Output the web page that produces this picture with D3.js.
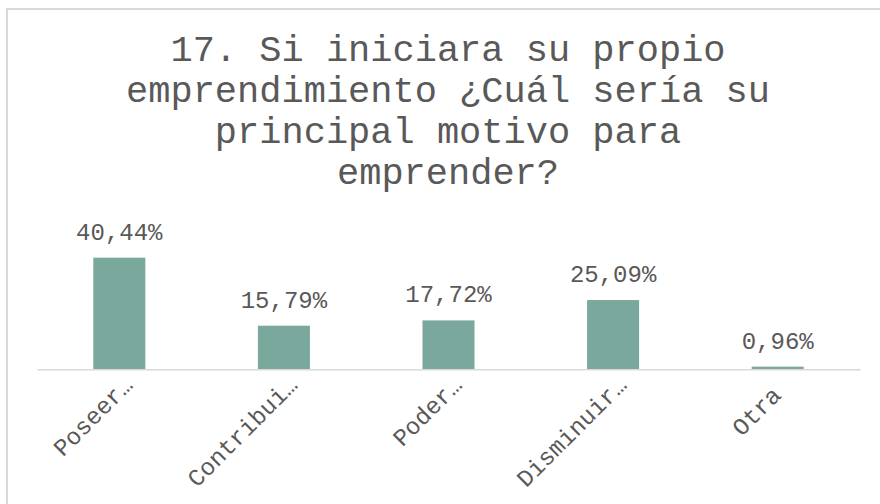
<!DOCTYPE html>
<html>
<head>
<meta charset="utf-8">
<script src="https://cdn.jsdelivr.net/npm/d3@7"></script>
<style>
  html, body { margin: 0; padding: 0; background: #fff; }
  svg { display: block; }
  .tick text { white-space: pre; }
</style>
</head>
<body>
<div id="chart"></div>
<script>
const titleLines = [
  '17. Si iniciara su propio',
  'emprendimiento ¿Cuál sería su',
  'principal motivo para',
  'emprender?'
];
const categories = ['Poseer…', 'Contribui…', 'Poder…', 'Disminuir…', 'Otra '];
const values = [40.44, 15.79, 17.72, 25.09, 0.96];

const width = 880;
const height = 504;
const fontFamily = '"Liberation Mono", "DejaVu Sans Mono", monospace';
const textColor = '#595959';
const gridColor = '#d9d9d9';
const barColor = '#7ba89d';

const svg = d3.select('#chart')
  .append('svg')
  .attr('width', width)
  .attr('height', height);

svg.append('rect')
  .attr('width', width)
  .attr('height', height)
  .attr('fill', '#fff');

// chart frame (right and bottom edges fall outside the picture)
svg.append('rect')
  .attr('x', 7)
  .attr('y', 9)
  .attr('width', 1000)
  .attr('height', 1000)
  .attr('fill', 'none')
  .attr('stroke', gridColor)
  .attr('stroke-width', 2);

// title
svg.append('text')
  .attr('text-anchor', 'middle')
  .attr('font-family', fontFamily)
  .attr('font-size', '37px')
  .attr('fill', textColor)
  .selectAll('tspan')
  .data(titleLines)
  .enter()
  .append('tspan')
  .attr('x', 448)
  .attr('y', (d, i) => 61 + i * 41)
  .text(d => d);

const plot = { left: 37, right: 860, baseline: 369.3 };

const x = d3.scaleBand()
  .domain(categories)
  .range([plot.left, plot.right])
  .paddingInner(0.684)
  .paddingOuter(0.342);

const y = d3.scaleLinear()
  .domain([0, 45])
  .range([plot.baseline, plot.baseline - 45 * 2.76]);

const data = categories.map((c, i) => ({ category: c, value: values[i] }));

svg.selectAll('.bar')
  .data(data)
  .enter()
  .append('rect')
  .attr('class', 'bar')
  .attr('x', d => x(d.category))
  .attr('y', d => y(d.value))
  .attr('width', x.bandwidth())
  .attr('height', d => y(0) - y(d.value))
  .attr('fill', barColor);

const fmt = v => d3.format('.2f')(v).replace('.', ',') + '%';

svg.selectAll('.value-label')
  .data(data)
  .enter()
  .append('text')
  .attr('class', 'value-label')
  .attr('x', d => x(d.category) + x.bandwidth() / 2)
  .attr('y', d => y(d.value) - 18)
  .attr('text-anchor', 'middle')
  .attr('font-family', fontFamily)
  .attr('font-size', '24px')
  .attr('fill', textColor)
  .text(d => fmt(d.value));

const xAxis = svg.append('g')
  .attr('transform', `translate(0,${plot.baseline})`)
  .call(d3.axisBottom(x).tickSize(0));

xAxis.select('.domain')
  .attr('stroke', gridColor)
  .attr('stroke-width', 1.5);

xAxis.selectAll('.tick text')
  .attr('x', null)
  .attr('y', null)
  .attr('dy', null)
  .attr('transform', 'translate(15,17) rotate(-45)')
  .attr('text-anchor', 'end')
  .attr('font-family', fontFamily)
  .attr('font-size', '24px')
  .attr('fill', textColor);
</script>
</body>
</html>
